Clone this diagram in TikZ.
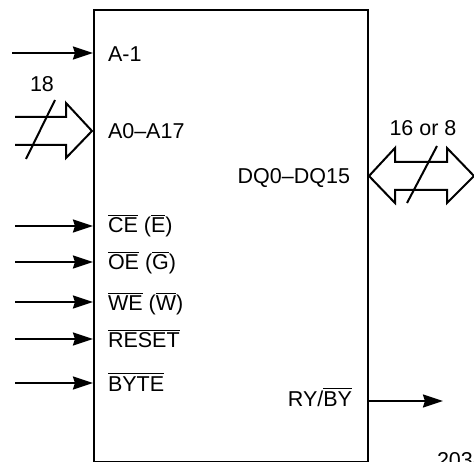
\documentclass[tikz,border=0pt]{standalone}
\usepackage{fontspec}
\setmainfont{Liberation Sans}
\usetikzlibrary{arrows.meta}
\newcommand\ovl[1]{\leavevmode\vbox{\hrule height 0.9pt\kern 2pt\hbox{#1}}}
\begin{document}
\begin{tikzpicture}[x=1pt,y=-1pt, line width=2pt,
  lbl/.style={inner sep=0pt, font=\fontsize{21.5}{26}\selectfont},
  sig/.style={-{Stealth[length=20pt,width=13pt,inset=2pt]}, line width=2.2pt},
  bus/.style={line width=2pt, line join=miter}]
\useasboundingbox (0,0) rectangle (474,462);
% main block
\node[draw, line width=2.2pt, minimum width=274pt, minimum height=452pt, inner sep=0pt, anchor=north west] (box) at (93,9) {};
% single inputs
\coordinate (iA1) at (12,53);
\coordinate (iCE) at (15,226);
\coordinate (iOE) at (15,262);
\coordinate (iWE) at (15,302);
\coordinate (iRS) at (15,339);
\coordinate (iBY) at (15,383);
\foreach \c in {iA1,iCE,iOE,iWE,iRS,iBY}
  \draw[sig] (\c) -- (\c -| box.west);
% output
\coordinate (oRY) at (443,401);
\draw[sig] (oRY -| box.east) -- (oRY);
% labels
\node[lbl, anchor=base west] (lA1) at (107,62) {A-1};
\node[lbl, anchor=base west] (lA0) at (107,139) {A0--A17};
\node[lbl, anchor=base west] (lCE) at (107,233) {\ovl{CE} (\ovl{E})};
\node[lbl, anchor=base west] (lOE) at (107,270) {\ovl{OE} (\ovl{G})};
\node[lbl, anchor=base west] (lWE) at (107,311) {\ovl{WE} (\ovl{W})};
\node[lbl, anchor=base west] (lRS) at (107,348) {\ovl{RESET}};
\node[lbl, anchor=base west] (lBY) at (107,391) {\ovl{BYTE}};
\node[lbl, anchor=base east] (lDQ) at (351,184) {DQ0--DQ15};
\node[lbl, anchor=base east] (lRY) at (353,406) {RY/\ovl{BY}};
\node[lbl, anchor=base] (n18) at (42,92) {18};
\node[lbl, anchor=base] (n16) at (423,136) {16 or 8};
\node[lbl, anchor=base west] (fig) at (436,467) {2038};
% address bus (in)
\draw[bus] (15,117) -- (66,117) -- (66,103) -- (92,131) -- (66,158) -- (66,145) -- (15,145);
\draw[line width=2pt] (26,159) -- (55,100);
% data bus (bidirectional)
\draw[bus] (369,176) -- (395,148) -- (395,162) -- (447,162) -- (447,148) -- (474,176)
  -- (447,203) -- (447,190) -- (395,190) -- (395,203) -- cycle;
\draw[line width=2pt] (407,203) -- (437,146);
\end{tikzpicture}
\end{document}
